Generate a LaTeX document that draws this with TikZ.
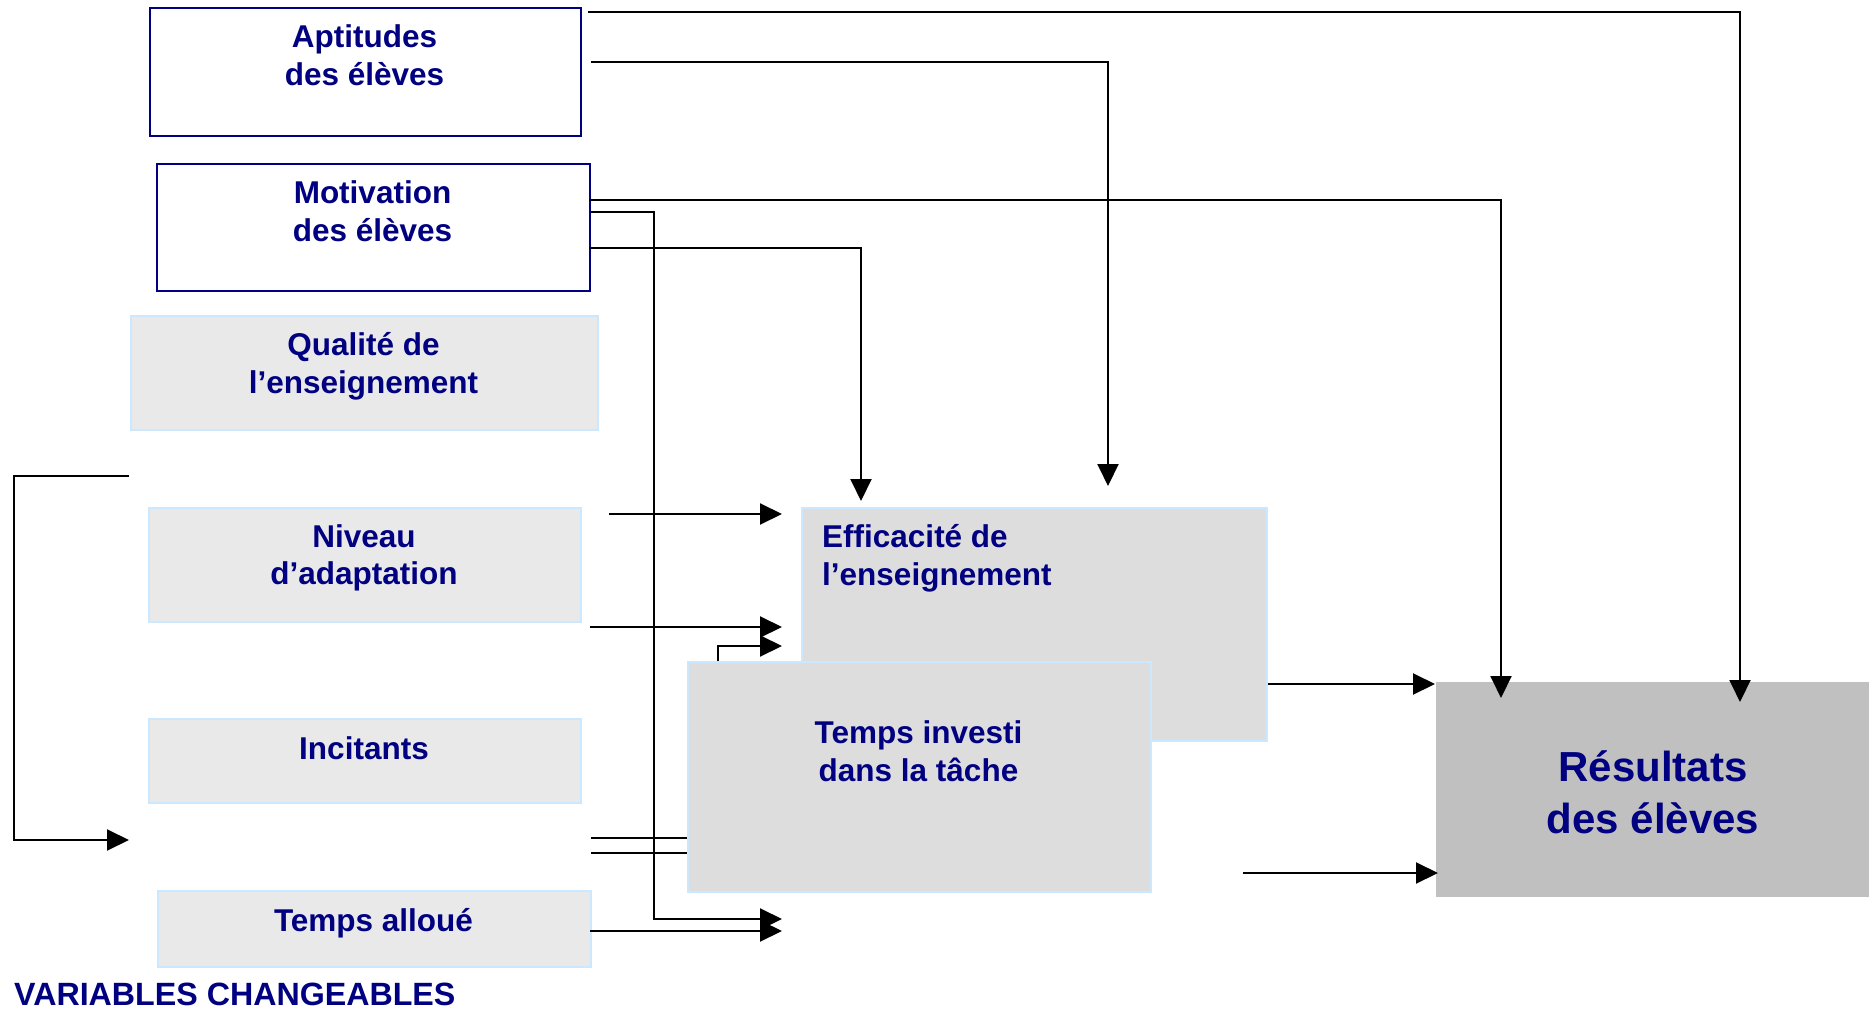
\documentclass[tikz,border=0pt]{standalone}
\usepackage{fontspec}
\setmainfont{Liberation Sans}
\usetikzlibrary{arrows.meta,positioning}
\definecolor{navy}{RGB}{0,0,128}
\definecolor{edgeblue}{RGB}{204,232,255}
\definecolor{boxgray}{RGB}{233,233,233}
\definecolor{midgray}{RGB}{221,221,221}
\definecolor{resgray}{RGB}{192,192,192}

\begin{document}
\begin{tikzpicture}[x=1pt, y=-1pt,
	every node/.style={font=\bfseries\fontsize{31.5}{37.5}\selectfont, text=navy, align=center, inner sep=0pt},
	whitebox/.style={draw=navy, line width=1.6pt, fill=white, anchor=north west},
	graybox/.style={draw=edgeblue, line width=1.6pt, fill=boxgray, anchor=north west},
	bigbox/.style={draw=edgeblue, line width=1.6pt, fill=midgray, anchor=north west},
	arr/.style={line width=2pt, -{Triangle[length=22pt,width=21pt]}},
	link/.style={line width=2pt}]
	\useasboundingbox (0,0) rectangle (1869,1011);
	% variables on the left
	\node[whitebox, minimum width=431, minimum height=128] (apt) at (149,7) {};
	\node (apt-t) at (364.5,55) {Aptitudes\\des élèves};
	\node[whitebox, minimum width=433, minimum height=127] (mot) at (156,163) {};
	\node (mot-t) at (372.5,211) {Motivation\\des élèves};
	\node[graybox, minimum width=467, minimum height=114] (qual) at (130,315) {};
	\node (qual-t) at (363.5,366.5) {Qualité de\\l’enseignement};
	\node[graybox, minimum width=432, minimum height=114] (niv) at (148,507) {};
	\node (niv-t) at (364,558) {Niveau\\d’adaptation};
	\node[graybox, minimum width=432, minimum height=84] (inc) at (148,718) {};
	\node (inc-t) at (364,748.5) {Incitants};
	\node[graybox, minimum width=433, minimum height=76] (talloc) at (157,890) {};
	\node (talloc-t) at (373.5,923.5) {Temps alloué};
	\node[anchor=west, font=\bfseries\fontsize{32.2}{38}\selectfont] (var-t) at (14,994) {VARIABLES CHANGEABLES};
	% middle and right
	\node[bigbox, minimum width=465, minimum height=233] (eff) at (801,507) {};
	\node[anchor=west, align=left] (eff-t) at (822,558.5) {Efficacité de\\l’enseignement};
	\node[bigbox, minimum width=463, minimum height=230] (ti) at (687,661) {};
	\node (ti-t) at (918.5,751) {Temps investi\\dans la tâche};
	\node[fill=resgray, minimum width=433, minimum height=215, anchor=north west] (res) at (1436,682) {};
	\node[font=\bfseries\fontsize{42}{52}\selectfont] (res-t) at (1653,792) {Résultats\\des élèves};
	% free ends
	\coordinate (a1) at (588,12);
	\coordinate (a2) at (591,62);
	\coordinate (m1) at (589,200);
	\coordinate (m2) at (591,212);
	\coordinate (m3) at (589,248);
	\coordinate (fb-in) at (129,476);
	\coordinate (fb-out) at (129,840);
	\coordinate (n1) at (609,514);
	\coordinate (n2) at (590,627);
	\coordinate (i1) at (591,838);
	\coordinate (i2) at (591,853);
	\coordinate (ta) at (590,931);
	\coordinate (ti-out) at (1243,873);
	% arrow tips
	\coordinate (e-top1) at (861,501);
	\coordinate (e-top2) at (1108,486);
	\coordinate (e-in1) at (782,514);
	\coordinate (e-in2) at (782,627);
	\coordinate (e-in3) at (782,646);
	\coordinate (low1) at (782,919);
	\coordinate (low2) at (782,931);
	\coordinate (r-top1) at (1501,698);
	\coordinate (r-top2) at (1740,702);
	\coordinate (r-in1) at (1435,684);
	\coordinate (r-in2) at (1438,873);
	% connectors
	\draw[arr] (a1) -| (r-top2);
	\draw[arr] (a2) -| (e-top2);
	\draw[arr] (m1) -| (r-top1);
	\draw[arr] (m2) -- ++(63,0) |- (low1);
	\draw[arr] (m3) -| (e-top1);
	\draw[arr] (fb-in) -- ++(-115,0) |- (fb-out);
	\draw[arr] (n1) -- (e-in1);
	\draw[arr] (n2) -- (e-in2);
	\draw[arr] ([xshift=31pt]ti.north west) |- (e-in3);
	\draw[link] (i1) -- (ti.west |- i1);
	\draw[link] (i2) -- (ti.west |- i2);
	\draw[arr] (ta) -- (low2);
	\draw[arr] (eff.east |- r-in1) -- (r-in1);
	\draw[arr] (ti-out) -- (r-in2);
\end{tikzpicture}
\end{document}
